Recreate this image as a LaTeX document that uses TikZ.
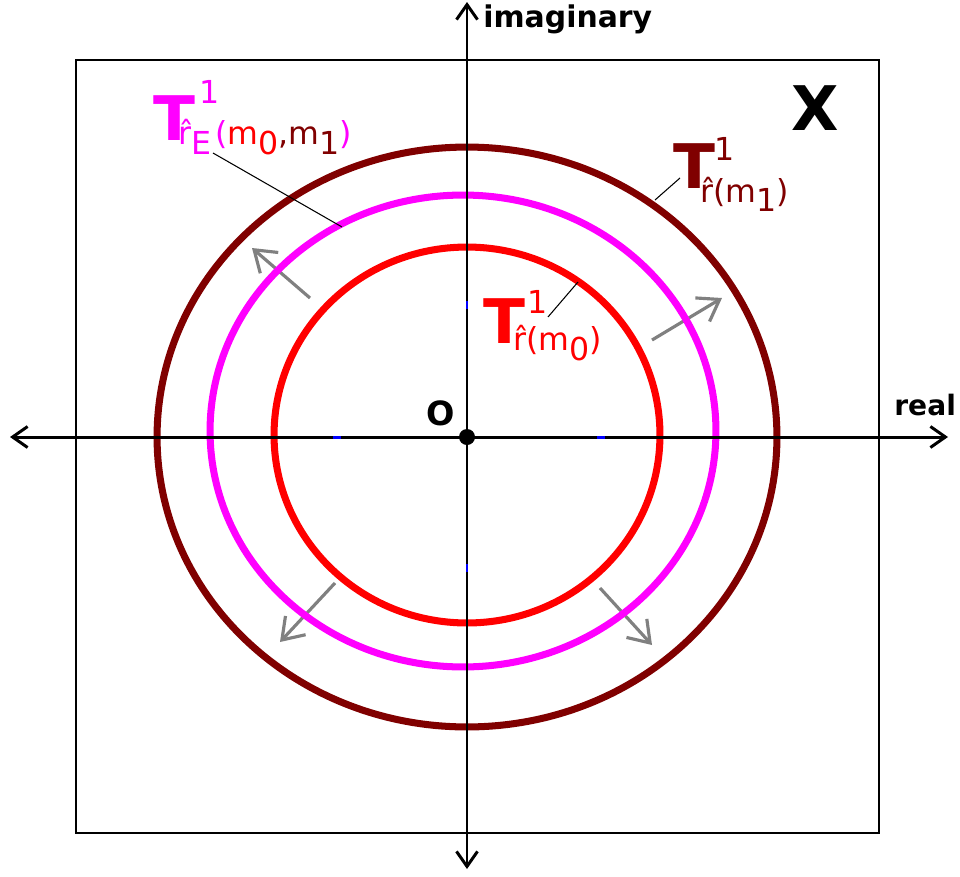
\documentclass[tikz,border=0pt]{standalone}
\usepackage{fontspec}
\setmainfont{DejaVu Sans}
\usetikzlibrary{arrows.meta}
\definecolor{ringmaroon}{RGB}{128,0,0}
\definecolor{ringmagenta}{RGB}{255,0,255}
\definecolor{ringred}{RGB}{255,0,0}
\newcommand{\lowidx}[1]{\raisebox{-0.2cm}{#1}}
% T, then the 1 (kern, raise) and the index (kern, lower)
\newcommand{\tsym}[5]{{\bfseries\fontsize{35}{35}\selectfont T}\fontsize{18}{18}\selectfont\rlap{\kern#1\raisebox{#2}{1}}\kern#3\raisebox{-#4}{#5}}

\begin{document}
\begin{tikzpicture}[x=0.02cm,y=-0.02cm,>={Straight Barb[length=0.3cm,width=0.42cm]},
    axis/.style={line width=1.7pt,<->},
    ring/.style={line width=4pt},
    spread/.style={line width=1.8pt,gray,-{Straight Barb[length=0.4cm,width=0.55cm]}},
    pointer/.style={line width=0.6pt},
    tsign/.style={inner sep=0pt,anchor=base west},
    tag/.style={inner sep=0pt,anchor=base west,font=\bfseries\fontsize{17}{17}\selectfont}]
        \useasboundingbox (0,0) rectangle (960,876);
        \coordinate (O) at (467,437);
        \coordinate (west) at (10,437);
        \coordinate (east) at (948,437);
        \coordinate (north) at (467,2);
        \coordinate (south) at (467,869);
        \draw [line width=1.2pt] (76,60) rectangle (879,833);
        \draw [spread] (310,298) -- (252,248);
        \draw [spread] (652,340) -- (722,298);
        \draw [spread] (335,583) -- (280,642);
        \draw [spread] (600,588) -- (652,645);
        \draw [ring,ringmaroon] (O) ellipse [x radius=6.2cm,y radius=5.8cm];
        \draw [ring,ringmagenta] (463,431) ellipse [x radius=5.06cm,y radius=4.72cm];
        \draw [ring,ringred] (467,435) ellipse [x radius=3.86cm,y radius=3.76cm];
        \draw [axis] (west) -- (east);
        \draw [axis] (south) -- (north);
        \draw [line width=1.7pt,blue] (467,301) -- (467,309) (467,564) -- (467,572)
            (333,437) -- (341,437) (597,437) -- (605,437);
        \fill (O) circle [radius=0.16cm];
        \node [tag] (imag) at (483,27) {imaginary};
        \node [tag,font=\bfseries\fontsize{16}{16}\selectfont] (real) at (894,415) {real};
        \node [tag,font=\bfseries\fontsize{19}{19}\selectfont] (origin) at (426,425) {O};
        \node [tag,font=\bfseries\fontsize{35}{35}\selectfont] (space) at (791,130) {X};
        \node [tsign,text=ringmagenta] (TE) at (153,140)
            {\tsym{0.08cm}{0.74cm}{-0.34cm}{0.08cm}{\^{r}\lowidx{E}\kern0.08cm(\textcolor{ringred}{m\lowidx{0}}\textcolor{ringmaroon}{,m\lowidx{1}})}};
        \node [tsign,text=ringmaroon] (TM) at (673,188)
            {\tsym{-0.02cm}{0.56cm}{-0.3cm}{0.28cm}{\^{r}(m\lowidx{1})}};
        \node [tsign,text=ringred] (TR) at (483,343)
            {\tsym{0.04cm}{0.6cm}{-0.24cm}{0.14cm}{\^{r}(m\lowidx{0})}};
        \coordinate (pE1) at (213,153);
        \coordinate (pE2) at (342,227);
        \coordinate (pM1) at (655,200);
        \coordinate (pM2) at (680,178);
        \coordinate (pR1) at (548,317);
        \coordinate (pR2) at (578,282);
        \draw [pointer] (pE1) -- (pE2);
        \draw [pointer] (pM1) -- (pM2);
        \draw [pointer] (pR1) -- (pR2);
    \end{tikzpicture}
\end{document}
